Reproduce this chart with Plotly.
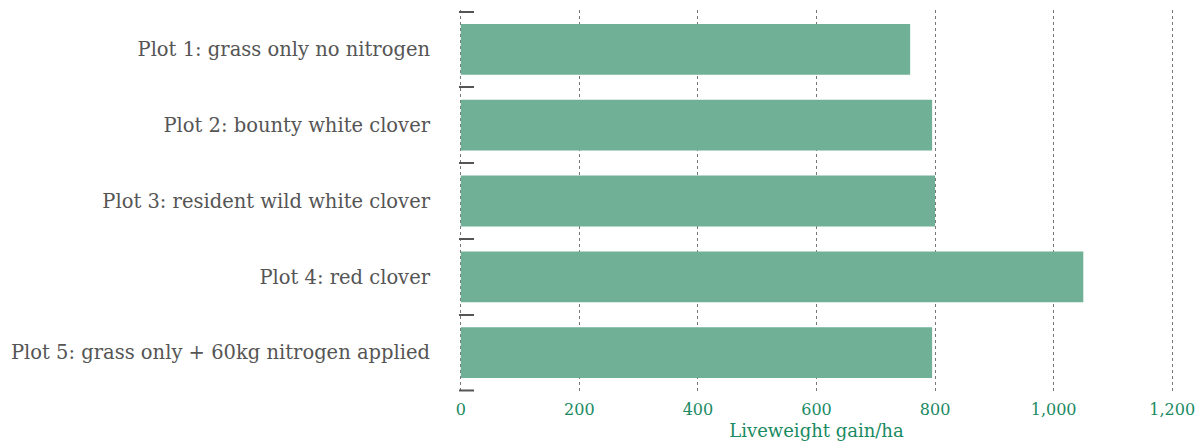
import plotly.graph_objects as go

categories = [
    "Plot 1: grass only no nitrogen",
    "Plot 2: bounty white clover",
    "Plot 3: resident wild white clover",
    "Plot 4: red clover",
    "Plot 5: grass only + 60kg nitrogen applied",
]
values = [758, 795, 800, 1050, 795]
x_ticks = [0, 200, 400, 600, 800, 1000, 1200]
x_tick_labels = ["0", "200", "400", "600", "800", "1,000", "1,200"]

fig = go.Figure(go.Bar(
    x=values, y=categories, orientation="h",
    marker=dict(color="#6fb096", line=dict(width=0)),
))
fig.update_layout(
    width=1195, height=442,
    margin=dict(l=459, r=21, t=10, b=50),
    paper_bgcolor="white", plot_bgcolor="white",
    bargap=0.33,
    showlegend=False,
    font=dict(family="DejaVu Serif"),
)
fig.update_xaxes(
    range=[-3, 1203], tickvals=x_ticks, ticktext=x_tick_labels,
    showgrid=True, gridcolor="#777", griddash="dot", gridwidth=1,
    zeroline=False, showline=False, ticks="",
    ticklabelstandoff=6, ticklabeloverflow="allow", automargin=False,
    tickfont=dict(family="DejaVu Serif", size=16, color="#1a8a62"),
    title=dict(text="Liveweight gain/ha", font=dict(family="DejaVu Serif", size=18, color="#1a8a62"), standoff=6),
)
fig.update_yaxes(
    range=[len(categories) - 0.48, -0.52], type="category",
    ticks="inside", tickson="boundaries", ticklen=15, tickcolor="#555", tickwidth=2,
    showgrid=False, showline=False, zeroline=False, automargin=False,
    tickfont=dict(family="DejaVu Serif", size=19.5, color="#555"),
    ticklabelstandoff=28,
)
# closing boundary tick below the last category
fig.add_shape(type="line", xref="x domain", yref="y",
              x0=0, x1=15 / 715, y0=len(categories) - 0.5, y1=len(categories) - 0.5,
              line=dict(color="#555", width=2))
fig.write_html("out.html")
